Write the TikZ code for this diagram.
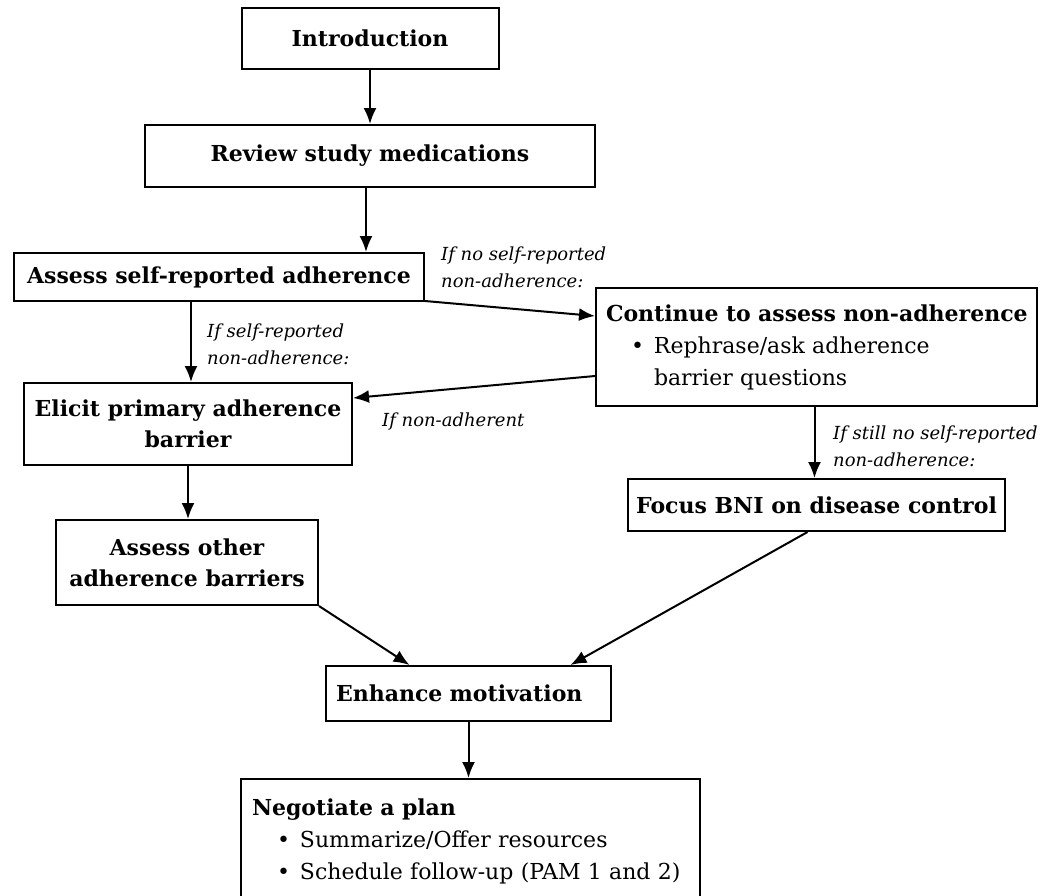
\documentclass[tikz,border=0pt]{standalone}
\usepackage{fontspec}
\setmainfont{DejaVu Serif}
\usetikzlibrary{arrows.meta,positioning}
\tikzset{
  box/.style={draw=black, line width=2pt, align=center, inner sep=0pt,
              font=\fontsize{22}{31}\selectfont\bfseries},
  listbox/.style={box, align=left, inner xsep=11pt, inner ysep=0pt,
              font=\fontsize{22}{32}\selectfont},
  arrow/.style={-{Latex[length=16pt,width=13pt]}, line width=2pt},
  tag/.style={font=\fontsize{18}{27}\selectfont\itshape, align=left,
              inner sep=1pt, anchor=west},
}
\newcommand{\bul}[1]{\hspace*{25pt}\makebox[23pt][l]{\textbullet}#1}
\newcommand{\listcont}[1]{\hspace*{48pt}#1}

\begin{document}
\begin{tikzpicture}[x=1pt, y=-1pt]
  \useasboundingbox (0,0) rectangle (1054,895);
  % left column
  \node[box, minimum width=257pt, minimum height=61pt] (intro) at (370,38.5) {Introduction};
  \node[box, minimum width=450pt, minimum height=62pt] (review) at (370,156) {Review study medications};
  \node[box, minimum width=410pt, minimum height=48pt] (assess) at (219,277) {Assess self-reported adherence};
  \node[box, minimum width=328pt, minimum height=82pt] (elicit) at (188,424) {Elicit primary adherence\\barrier};
  \node[box, minimum width=262pt, minimum height=85pt] (other) at (187,562.5) {Assess other\\adherence barriers};
  % right column
  \node[listbox, anchor=north west, text width=421pt, inner xsep=10pt, minimum height=118pt] (cont) at (595,287)
    {\mbox{\textbf{Continue to assess non-adherence}}\\
     \bul{Rephrase/ask adherence}\\
     \listcont{barrier questions}};
  \node[box, minimum width=377pt, minimum height=52pt] (focus) at (816.5,505) {Focus BNI on disease control};
  % bottom
  \node[box, align=left, inner xsep=10pt, text width=265pt, minimum height=55pt] (enhance) at (468.5,693.5) {Enhance motivation};
  \node[listbox, anchor=north west, text width=437pt, minimum height=124pt] (plan) at (240,778)
    {\textbf{Negotiate a plan}\\
     \bul{Summarize/Offer resources}\\
     \bul{Schedule follow-up (PAM 1 and 2)}};

  \draw[arrow] (intro.south) -- (intro.south |- review.north);
  \draw[arrow] ([xshift=-4pt]review.south) -- ([xshift=-4pt]review.south |- assess.north);
  \draw[arrow] ([xshift=3pt]elicit.north |- assess.south) -- ([xshift=3pt]elicit.north);
  \draw[arrow] ([yshift=1pt]assess.south east) -- ([yshift=31pt]cont.west);
  \draw[arrow] ([yshift=-29pt]cont.west) -- ([yshift=26pt]elicit.east);
  \draw[arrow] ([xshift=-2pt]cont.south) -- ([xshift=-2pt]cont.south |- focus.north);
  \draw[arrow] (elicit.south) -- (elicit.south |- other.north);
  \draw[arrow] (other.south east) -- ([xshift=-59pt]enhance.north);
  \draw[arrow] ([xshift=-9pt]focus.south) -- ([xshift=102pt]enhance.north);
  \draw[arrow] (enhance.south) -- (enhance.south |- plan.north);

  \node[tag] (nolabel) at (440,267) {If no self-reported\\non-adherence:};
  \node[tag] (selflabel) at (206,344) {If self-reported\\non-adherence:};
  \node[tag] (nonadh) at (381,422) {If non-adherent};
  \node[tag] (stilllabel) at (832,446) {If still no self-reported\\non-adherence:};
\end{tikzpicture}
\end{document}
